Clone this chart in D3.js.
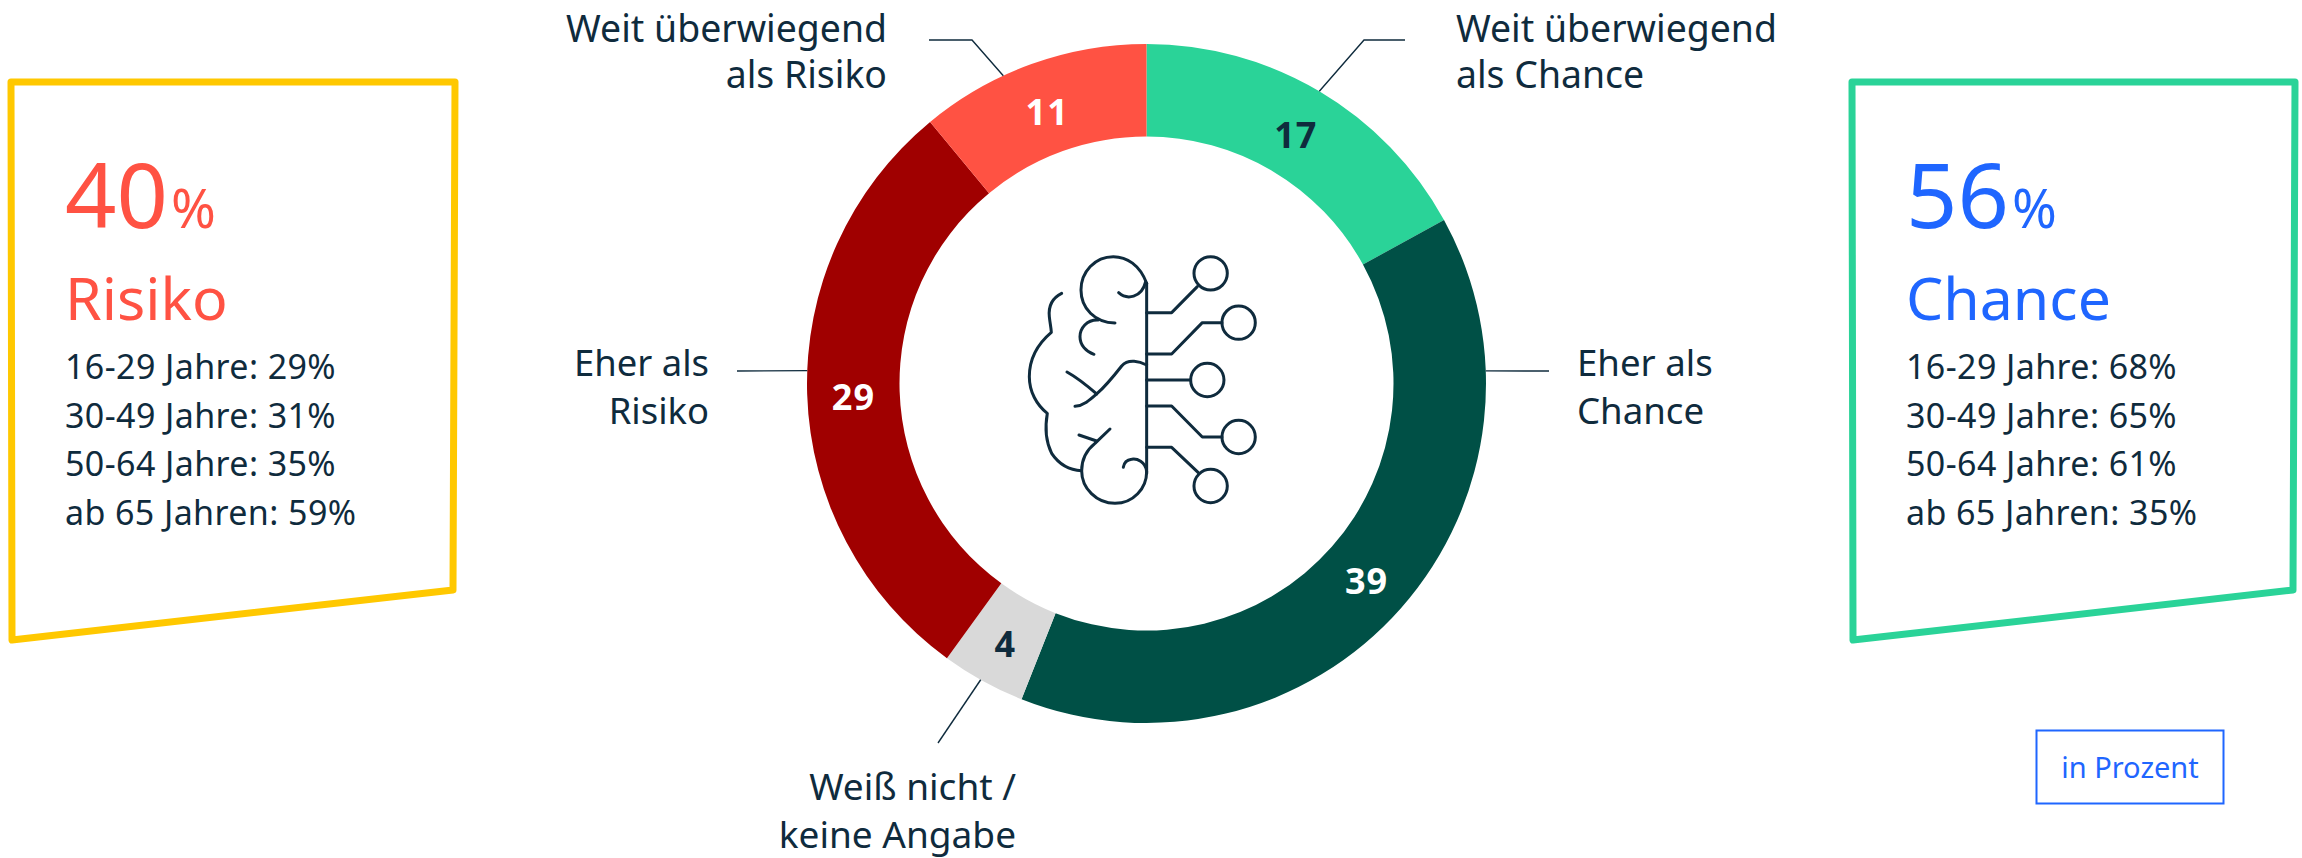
<!DOCTYPE html>
<html><head><meta charset="utf-8">
<script src="https://cdn.jsdelivr.net/npm/d3@7/dist/d3.min.js"></script>
<style>html,body{margin:0;padding:0;background:#fff}svg{display:block}text{font-family:"Noto Sans",sans-serif}</style>
</head><body><svg id="c" width="2302" height="858"></svg>
<script>
const categories=["Weit überwiegend als Chance","Eher als Chance","Weiß nicht / keine Angabe","Eher als Risiko","Weit überwiegend als Risiko"];
const values=[17,39,4,29,11];
const sliceColors=["#2AD398","#005046","#D9D9D9","#A00000","#FF5243"];
const valueColors=["#0F2B3D","#FFFFFF","#0F2B3D","#FFFFFF","#FFFFFF"];
const ageLabels=["16-29 Jahre","30-49 Jahre","50-64 Jahre","ab 65 Jahren"];
const riskByAge=[29,31,35,59];
const chanceByAge=[68,65,61,35];
const INK="#0F2B3D";
const svg=d3.select("#c");
const cx=1146.5,cy=383.5,R=339.5,r=247;
const pie=d3.pie().sort(null).value(d=>d)(values);
const arc=d3.arc().innerRadius(r).outerRadius(R);
const g=svg.append("g").attr("transform",`translate(${cx},${cy})`);
g.selectAll("path").data(pie).join("path").attr("d",arc).attr("fill",(d,i)=>sliceColors[i]);
g.selectAll("text").data(pie).join("text").attr("transform",d=>{const c=arc.centroid(d);return `translate(${c})`;})
 .attr("text-anchor","middle").attr("dy","0.47em").attr("font-size",36).attr("font-weight",700).attr("letter-spacing",1)
 .attr("fill",(d,i)=>valueColors[i]).text(d=>d.value);
function anchor(i,f){const p=pie[i],a=p.startAngle+(p.endAngle-p.startAngle)*f;return [cx+R*Math.sin(a),cy-R*Math.cos(a)];}
const leaders=[[0,0.5,[[1364,40],[1405,40]]],[1,0.19,[[1549,371]]],[2,0.53,[[938,743]]],[3,0.538,[[737,371]]],[4,0.37,[[972,40],[929,40]]]];
const line=d3.line();
leaders.forEach(([i,f,pts])=>{svg.append("path").attr("d",line([anchor(i,f),...pts])).attr("fill","none").attr("stroke",INK).attr("stroke-width",1.4);});
const labels=[
 {l:["Weit überwiegend","als Chance"],x:1456,y:[42,88],a:"start",s:37.4},
 {l:["Eher als","Chance"],x:1577,y:[376,424],a:"start",s:36.6},
 {l:["Eher als","Risiko"],x:709,y:[376,424],a:"end",s:36.4},
 {l:["Weit überwiegend","als Risiko"],x:887,y:[42,88],a:"end",s:37.4},
 {l:["Weiß nicht /","keine Angabe"],x:1016,y:[800,848],a:"end",s:37}];
labels.forEach(d=>d.l.forEach((t,i)=>svg.append("text").attr("x",d.x).attr("y",d.y[i]).attr("text-anchor",d.a).attr("font-size",d.s).attr("fill",INK).text(t)));
const lineJoin=d3.line().curve(d3.curveLinearClosed);
function panel(pts,color,x,big,word,vals,tc){
 svg.append("path").attr("d",lineJoin(pts)).attr("fill","none").attr("stroke",color).attr("stroke-width",7).attr("stroke-linejoin","round");
 const t=svg.append("text").attr("x",x).attr("y",228).attr("fill",tc).attr("font-size",90);
 t.append("tspan").text(big);t.append("tspan").attr("font-size",54).attr("dx",3).text("%");
 svg.append("text").attr("x",x).attr("y",320).attr("fill",tc).attr("font-size",59).text(word);
 ageLabels.forEach((a,i)=>svg.append("text").attr("x",x).attr("y",379+i*48.5).attr("fill",INK).attr("font-size",34).attr("letter-spacing",0.4).text(`${a}: ${vals[i]}%`));
}
panel([[11,82],[455,82],[453,590],[12,640]],"#FFC800",65,"40","Risiko",riskByAge,"#FF5243");
panel([[1852,82],[2295,82],[2293,590],[1853,640]],"#2AD398",1906,"56","Chance",chanceByAge,"#1F66FF");
svg.append("rect").attr("x",2036.5).attr("y",730.5).attr("width",187).attr("height",73).attr("fill","none").attr("stroke","#1F66FF").attr("stroke-width",2);
svg.append("text").attr("x",2130).attr("y",778).attr("text-anchor","middle").attr("font-size",29).attr("fill","#1F66FF").text("in Prozent");
const ic=svg.append("g").attr("transform","translate(980,240) scale(0.3333)").attr("fill","none").attr("stroke",INK).attr("stroke-width",9).attr("stroke-linecap","round").attr("stroke-linejoin","round");
[[692,100],[776,248],[682,420],[776,591],[692,738]].forEach(c=>ic.append("circle").attr("cx",c[0]).attr("cy",c[1]).attr("r",50));
["M500,130V700","M500,218H575L652,140","M500,342H575L667,248H726","M500,420H632","M500,498H575L667,591H726","M500,622H575L655,698",
"M500,130C480,75 440,50 400,50C345,50 303,95 303,150C303,205 345,248 405,249","M416,158C440,180 485,175 497,125",
"M355,240C320,238 300,265 300,290C300,315 318,335 342,343",
"M245,160C215,175 205,200 208,230C210,250 213,260 214,277C175,310 148,350 148,410C148,455 170,495 202,520C195,560 195,600 215,640C235,670 265,690 305,692",
"M390,567L345,610C320,630 305,660 305,692C305,745 350,790 405,790C460,790 500,745 500,695C497,665 470,655 455,658C440,660 432,670 430,682",
"M297,585L350,603","M500,375C480,365 445,355 425,378C400,410 375,440 350,462C330,480 310,497 285,499","M261,396C295,415 325,440 350,462"
].forEach(d=>ic.append("path").attr("d",d));
</script></body></html>
